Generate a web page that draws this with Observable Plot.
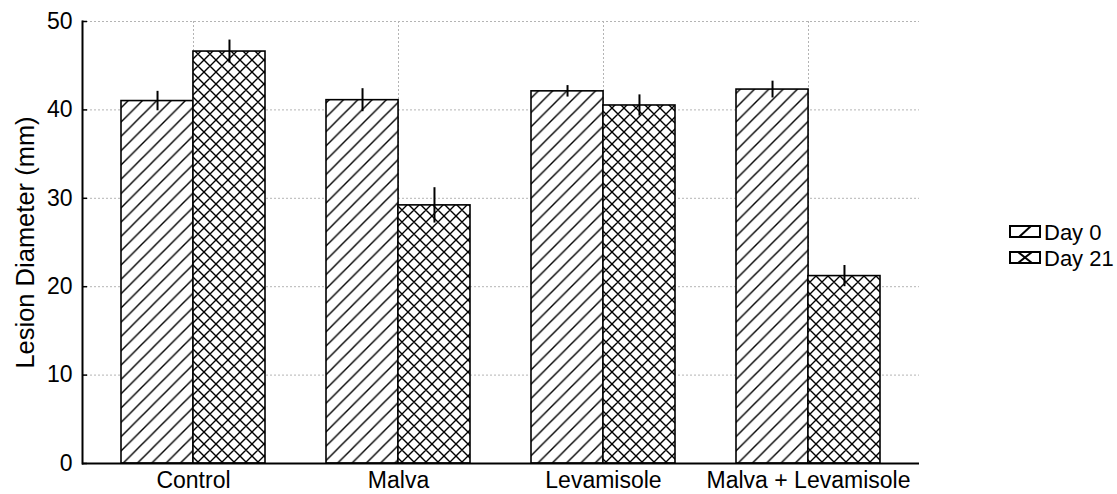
<!DOCTYPE html>
<html>
<head>
<meta charset="utf-8">
<script src="https://cdn.jsdelivr.net/npm/d3@7"></script>
<script src="https://cdn.jsdelivr.net/npm/@observablehq/plot@0.6"></script>
<style>
  html, body { margin: 0; padding: 0; background: #fff; }
  #chart { position: relative; width: 1117px; height: 494px; }
</style>
</head>
<body>
<div id="chart"></div>
<script>
const categories = ["Control", "Malva", "Levamisole", "Malva + Levamisole"];
const series = ["Day 0", "Day 21"];
const day0 = [41.0, 41.1, 42.1, 42.3];
const day0Err = [1.1, 1.3, 0.65, 0.95];
const day21 = [46.6, 29.2, 40.5, 21.2];
const day21Err = [1.3, 2.0, 1.2, 1.2];
const yTicks = [0, 10, 20, 30, 40, 50];
const yLabel = "Lesion Diameter (mm)";

const W = 1117, H = 494;
const mL = 82, mR = 198, mT = 21, mB = 31;
const FS = 23;
const xOpts = {type: "band", domain: categories, paddingInner: 0.3, paddingOuter: 0.186, align: 0.5};
const bw = Plot.scale({x: {...xOpts, range: [mL, W - mR]}}).bandwidth;

const rows0 = categories.map((c, i) => ({cat: c, v: day0[i], e: day0Err[i], s: series[0]}));
const rows21 = categories.map((c, i) => ({cat: c, v: day21[i], e: day21Err[i], s: series[1]}));

const gridStyle = {stroke: "#b4b4b4", strokeWidth: 1, strokeDasharray: "2,2"};

const chart = Plot.plot({
  width: W, height: H,
  marginLeft: mL, marginRight: mR, marginTop: mT, marginBottom: mB,
  x: {...xOpts, axis: null},
  y: {domain: [0, 50], axis: null},
  style: {fontFamily: "'Liberation Sans', Arial, sans-serif", fontSize: FS + "px", color: "#000", background: "#fff"},
  marks: [
    Plot.ruleY(yTicks.slice(1), gridStyle),
    Plot.ruleX(categories, gridStyle),
    Plot.barY(rows0, {x: "cat", y: "v", insetRight: bw / 2, fill: "url(#hatchDay0)", stroke: "#000", strokeWidth: 1.6}),
    Plot.barY(rows21, {x: "cat", y: "v", insetLeft: bw / 2, fill: "url(#hatchDay21)", stroke: "#000", strokeWidth: 1.6}),
    Plot.ruleX(rows0, {x: "cat", y1: d => d.v - d.e, y2: d => d.v + d.e, dx: -bw / 4, stroke: "#000", strokeWidth: 2}),
    Plot.ruleX(rows21, {x: "cat", y1: d => d.v - d.e, y2: d => d.v + d.e, dx: bw / 4, stroke: "#000", strokeWidth: 2}),
    Plot.axisY({ticks: yTicks, tickSize: -5, tickPadding: 15, fontSize: FS, strokeWidth: 1.5, label: null}),
    Plot.axisY({ticks: [], tickSize: 0, fontSize: 25.5, label: yLabel, labelAnchor: "center", labelOffset: 67, labelArrow: false}),
    Plot.axisX({tickSize: 0, tickPadding: 8, fontSize: FS, label: null}),
    Plot.ruleY([0], {stroke: "#000", strokeWidth: 2}),
    Plot.frame({anchor: "left", stroke: "#000", strokeWidth: 2})
  ]
});

document.getElementById("chart").appendChild(chart);

// Hatch patterns
const svg = d3.select(chart);
const defs = svg.insert("defs", ":first-child");
const s0 = 14.3;
const p0 = defs.append("pattern").attr("id", "hatchDay0").attr("patternUnits", "userSpaceOnUse")
  .attr("width", s0).attr("height", s0);
p0.append("rect").attr("width", s0).attr("height", s0).attr("fill", "#fff");
p0.append("path").attr("d", `M0,${s0} L${s0},0 M${-s0/2},${s0/2} L${s0/2},${-s0/2} M${s0/2},${1.5*s0} L${1.5*s0},${s0/2}`)
  .attr("stroke", "#000").attr("stroke-width", 1.4).attr("fill", "none");
const s1 = 12;
const p1 = defs.append("pattern").attr("id", "hatchDay21").attr("patternUnits", "userSpaceOnUse")
  .attr("width", s1).attr("height", s1);
p1.append("rect").attr("width", s1).attr("height", s1).attr("fill", "#fff");
p1.append("path").attr("d",
  `M0,${s1} L${s1},0 M${-s1/2},${s1/2} L${s1/2},${-s1/2} M${s1/2},${1.5*s1} L${1.5*s1},${s1/2}` +
  `M0,0 L${s1},${s1} M${-s1/2},${s1/2} L${s1/2},${1.5*s1} M${s1/2},${-s1/2} L${1.5*s1},${s1/2}`)
  .attr("stroke", "#000").attr("stroke-width", 1.4).attr("fill", "none");

// Legend
const lg = svg.append("g")
  .attr("font-family", "'Liberation Sans', Arial, sans-serif")
  .attr("font-size", FS - 1)
  .attr("text-anchor", "start");
series.forEach((name, i) => {
  const y0 = 226 + i * 26;
  const x0 = 1010;
  const g = lg.append("g").attr("transform", `translate(${x0},${y0})`);
  g.append("rect").attr("width", 30).attr("height", 11).attr("fill", "#fff").attr("stroke", "#000").attr("stroke-width", 2);
  if (i === 0) {
    g.append("path").attr("d", "M9,11 L21,0").attr("stroke", "#000").attr("stroke-width", 2);
  } else {
    g.append("path").attr("d", "M8,0 L22,11 M22,0 L8,11").attr("stroke", "#000").attr("stroke-width", 2);
  }
  lg.append("text").attr("x", x0 + 34).attr("y", y0 + 6).attr("dy", "0.35em")
    .attr("text-anchor", "start").attr("fill", "#000").text(name);
});
</script>
</body>
</html>
